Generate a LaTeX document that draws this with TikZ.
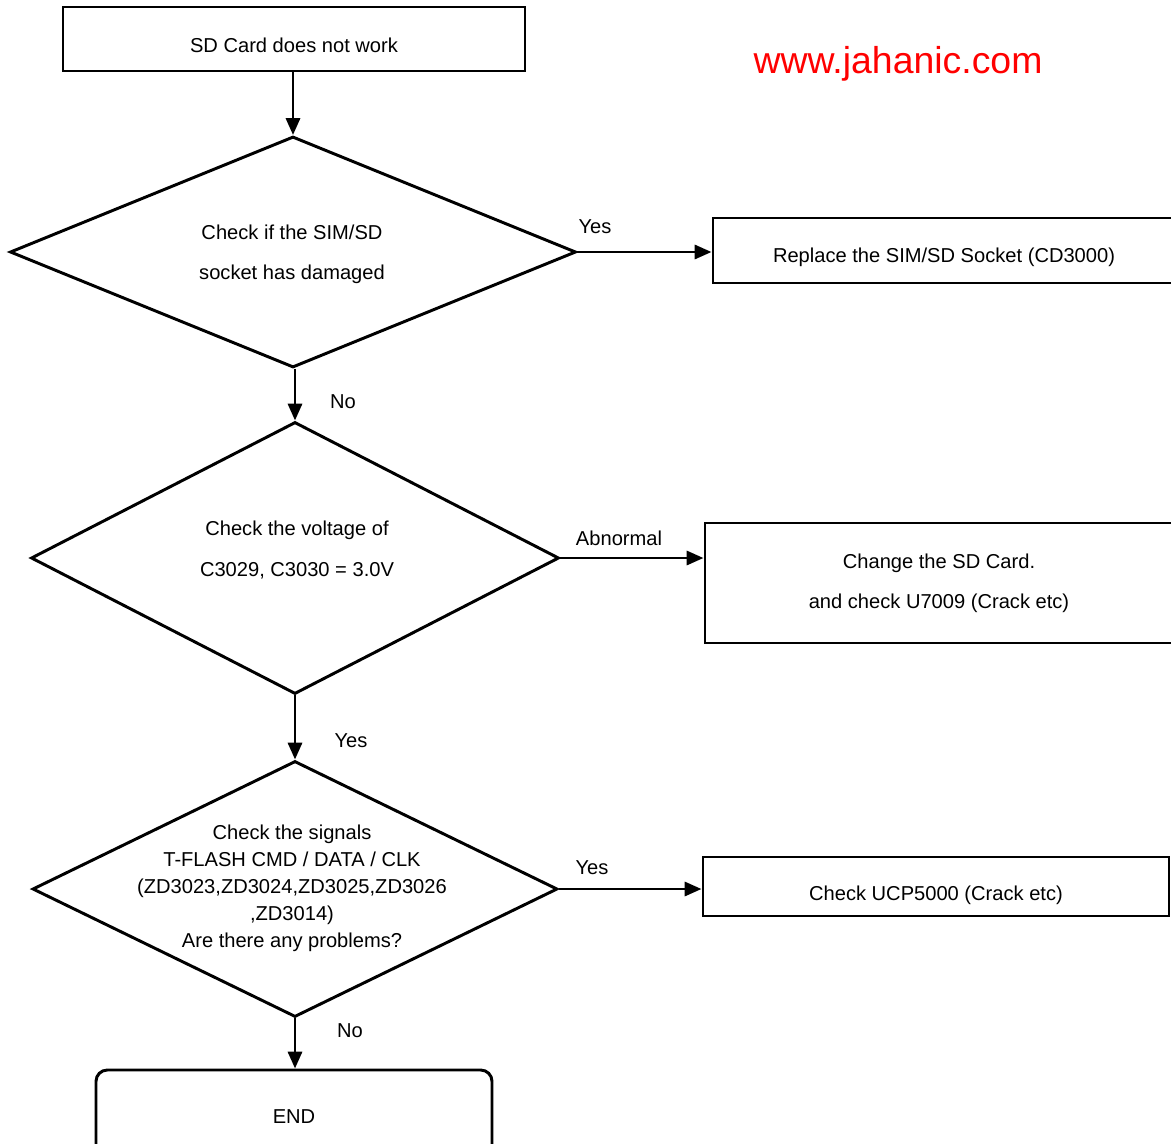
\documentclass[tikz,border=0pt]{standalone}
\usepackage{fontspec}
\setmainfont{Liberation Sans}
\usetikzlibrary{shapes.geometric,arrows.meta}
\begin{document}
\begin{tikzpicture}[x=0.025cm,y=-0.025cm,
  txt/.style={font=\fontsize{14.3}{28.5}\selectfont,inner sep=0pt,align=center},
  box/.style={draw,line width=2.1pt,rectangle,inner sep=0pt},
  dec/.style={draw,line width=2.1pt,diamond,inner sep=0pt},
  lbl/.style={txt},
  arr/.style={line width=2.1pt,-{Triangle[length=12pt,width=10pt]}}]
\useasboundingbox (0,0) rectangle (1171,1144);
\fill[white] (0,0) rectangle (1171,1144);

% shapes
\node[box,minimum width=462*0.025cm,minimum height=64*0.025cm] (start) at (294,39) {};
\node[dec,minimum width=566*0.025cm,minimum height=231*0.025cm] (d1) at (293,252) {};
\node[box,minimum width=462*0.025cm,minimum height=65*0.025cm] (r1) at (944,250.5) {};
\node[dec,minimum width=528*0.025cm,minimum height=272*0.025cm] (d2) at (295,558) {};
\node[box,minimum width=468*0.025cm,minimum height=120*0.025cm] (r2) at (939,583) {};
\node[dec,minimum width=525*0.025cm,minimum height=256*0.025cm] (d3) at (295,889) {};
\node[box,minimum width=466*0.025cm,minimum height=59*0.025cm] (r3) at (936,886.5) {};
\node[box,rounded corners=8pt,minimum width=396*0.025cm,minimum height=96*0.025cm] (end) at (294,1118) {};

% texts
\node[txt] (tstart) at (294,45) {SD Card does not work};
\node[txt] (td1) at (292,254) {Check if the SIM/SD\\socket has damaged};
\node[txt] (tr1) at (944,257) {Replace the SIM/SD Socket (CD3000)};
\node[txt,font=\fontsize{14.3}{29}\selectfont] (td2) at (297,550) {Check the voltage of\\C3029, C3030 = 3.0V};
\node[txt] (tr2) at (939,583) {Change the SD Card.\\and check U7009 (Crack etc)};
\node[txt,font=\fontsize{14.3}{19.2}\selectfont] (td3) at (292,888)
  {Check the signals\\T-FLASH CMD / DATA / CLK\\(ZD3023,ZD3024,ZD3025,ZD3026\\,ZD3014)\\Are there any problems?};
\node[txt] (tr3) at (936,895) {Check UCP5000 (Crack etc)};
\node[txt] (tend) at (294,1117) {END};

% connectors
\draw[arr] (d1.north |- start.south) -- (d1.north);
\draw[arr] (d1.east) -- (r1.west |- d1.east);
\draw[arr] (d2.north |- d1.south) -- (d2.north);
\draw[arr] (d2.east) -- (r2.west |- d2.east);
\draw[arr] (d2.south) -- (d3.north);
\draw[arr] (d3.east) -- (r3.west |- d3.east);
\draw[arr] (d3.south) -- (end.north -| d3.south);

% labels
\node[lbl] (l1) at (595,227) {Yes};
\node[lbl] (l2) at (343,402) {No};
\node[lbl] (l3) at (619,538) {Abnormal};
\node[lbl] (l4) at (351,741) {Yes};
\node[lbl] (l5) at (592,868) {Yes};
\node[lbl] (l6) at (350,1031) {No};

\node[inner sep=0pt,text=red,font=\fontsize{26.6}{30}\selectfont] (web) at (898,64) {www.jahanic.com};
\end{tikzpicture}
\end{document}
